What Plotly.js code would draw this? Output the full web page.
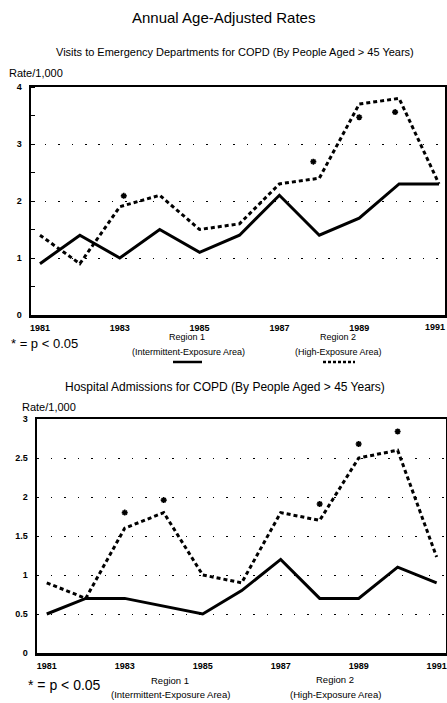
<!DOCTYPE html>
<html><head><meta charset="utf-8">
<script src="https://cdn.plot.ly/plotly-3.0.1.min.js"></script>
<style>html,body{margin:0;padding:0;background:#fff}#chart{width:447px;height:703px}</style>
</head><body><div id="chart"></div>
<script>
const years = [1981,1982,1983,1984,1985,1986,1987,1988,1989,1990,1991];
const edRegion1 = [0.9,1.4,1.0,1.5,1.1,1.4,2.1,1.4,1.7,2.3,2.3];
const edRegion2 = [1.4,0.9,1.9,2.1,1.5,1.6,2.3,2.4,3.7,3.8,2.3];
const edSigYears = [1983.1,1987.85,1989,1989.9];
const edSigVals = [2.09,2.69,3.47,3.56];
const haRegion1 = [0.5,0.7,0.7,0.6,0.5,0.8,1.2,0.7,0.7,1.1,0.9];
const haRegion2 = [0.9,0.7,1.6,1.8,1.0,0.9,1.8,1.7,2.5,2.6,1.23];
const haSigYears = [1983,1984,1988,1989,1990];
const haSigVals = [1.8,1.96,1.91,2.68,2.84];
const xTicks = [1981,1983,1985,1987,1989,1991];
const xTicksTop = [1981,1983,1985,1987,1989];
const lastTick = 1991;

const W=447,H=703;
const px = x => x/W, py = y => 1 - y/H;
const F = "Liberation Sans, Arial, Helvetica, sans-serif";

const solid = {color:'#000',width:3};
const dotted = {color:'#000',width:3,dash:'4px,3px'};
const sigMarker = {symbol:'asterisk-open',size:5,color:'#000',line:{color:'#000',width:1.6}};

const traces = [
 {x:years,y:edRegion1,mode:'lines',line:solid,xaxis:'x',yaxis:'y',hoverinfo:'skip'},
 {x:years,y:edRegion2,mode:'lines',line:dotted,xaxis:'x',yaxis:'y',hoverinfo:'skip'},
 {x:edSigYears,y:edSigVals,mode:'markers',marker:sigMarker,xaxis:'x',yaxis:'y',hoverinfo:'skip'},
 {x:years,y:haRegion1,mode:'lines',line:solid,xaxis:'x2',yaxis:'y2',hoverinfo:'skip'},
 {x:years,y:haRegion2,mode:'lines',line:dotted,xaxis:'x2',yaxis:'y2',hoverinfo:'skip'},
 {x:haSigYears,y:haSigVals,mode:'markers',marker:sigMarker,xaxis:'x2',yaxis:'y2',hoverinfo:'skip'}
];

const tickFont = {family:F,size:9,color:'#000',weight:'bold'};
const xBase = {showgrid:false,zeroline:false,
  showline:true,mirror:true,linecolor:'#000',linewidth:2.5,ticks:'',fixedrange:true,
  ticklabeloverflow:'allow',ticklabelstandoff:3,tickfont:tickFont};
const yBase = {showgrid:true,gridcolor:'#000',gridwidth:1,griddash:'1.5px,12px',zeroline:false,
  showline:true,mirror:true,linecolor:'#000',linewidth:2.5,ticks:'',fixedrange:true,
  ticklabeloverflow:'allow',ticklabelstandoff:5,tickfont:tickFont};

const annotations = [
  {text:'Annual Age-Adjusted Rates',x:px(223),y:py(18),font:{size:15}},
  {text:'Visits to Emergency Departments for COPD (By People Aged > 45 Years)',x:px(235),y:py(52),font:{size:11}},
  {text:'Rate/1,000',x:px(36),y:py(73),font:{size:11}},
  {text:'* = p < 0.05',x:px(44),y:py(343),font:{size:13}},
  {text:'Region 1',x:px(187),y:py(337),font:{size:9}},
  {text:'(Intermittent-Exposure Area)',x:px(188),y:py(352),font:{size:9}},
  {text:'Region 2',x:px(338),y:py(337),font:{size:9}},
  {text:'(High-Exposure Area)',x:px(338),y:py(352),font:{size:9}},
  {text:'Hospital Admissions for COPD (By People Aged > 45 Years)',x:px(225),y:py(387),font:{size:12}},
  {text:'Rate/1,000',x:px(49),y:py(407),font:{size:11}},
  {text:'* = p < 0.05',x:px(64),y:py(685),font:{size:14}},
  {text:'Region 1',x:px(170),y:py(680),font:{size:9.5}},
  {text:'(Intermittent-Exposure Area)',x:px(170),y:py(694),font:{size:9.5}},
  {text:'Region 2',x:px(335),y:py(679),font:{size:9.5}},
  {text:'(High-Exposure Area)',x:px(335),y:py(694),font:{size:9.5}}
 ].map(a=>Object.assign({xref:'paper',yref:'paper',showarrow:false,xanchor:'center',yanchor:'middle'},a));
annotations.push({text:String(lastTick),xref:'x',yref:'paper',x:lastTick,y:py(327),xanchor:'right',yanchor:'middle',
  xshift:7.5,showarrow:false,font:tickFont});

const layout = {
 width:W,height:H,margin:{l:0,r:0,t:0,b:0},paper_bgcolor:'#fff',plot_bgcolor:'#fff',showlegend:false,
 font:{family:F,color:'#000'},
 xaxis:Object.assign({},xBase,{domain:[px(31),px(445)],range:[1980.775,1991.15],anchor:'y',
   tickvals:xTicksTop,ticktext:xTicksTop.map(String)}),
 yaxis:Object.assign({},yBase,{domain:[py(315),py(87)],range:[0,4],tickvals:[0,1,2,3,4],anchor:'x',
   minor:{dtick:0.5,ticks:'inside',ticklen:4,tickcolor:'#000',showgrid:false}}),
 xaxis2:Object.assign({},xBase,{domain:[px(37),px(446)],range:[1980.75,1991.24],anchor:'y2',
   tickvals:xTicks,ticktext:xTicks.map(String)}),
 yaxis2:Object.assign({},yBase,{domain:[py(653),py(419)],range:[0,3],tickvals:[0,0.5,1,1.5,2,2.5,3],
   ticktext:['0','0.5','1','1.5','2','2.5','3'],anchor:'x2'}),
 annotations:annotations,
 shapes:[
  {type:'line',xref:'paper',yref:'paper',x0:px(173),x1:px(202),y0:py(362),y1:py(362),line:{color:'#000',width:2.5}},
  {type:'line',xref:'paper',yref:'paper',x0:px(323),x1:px(355),y0:py(362),y1:py(362),line:{color:'#000',width:2.5,dash:'3px,2px'}}
 ]
};
Plotly.newPlot('chart',traces,layout,{staticPlot:true});
</script></body></html>
